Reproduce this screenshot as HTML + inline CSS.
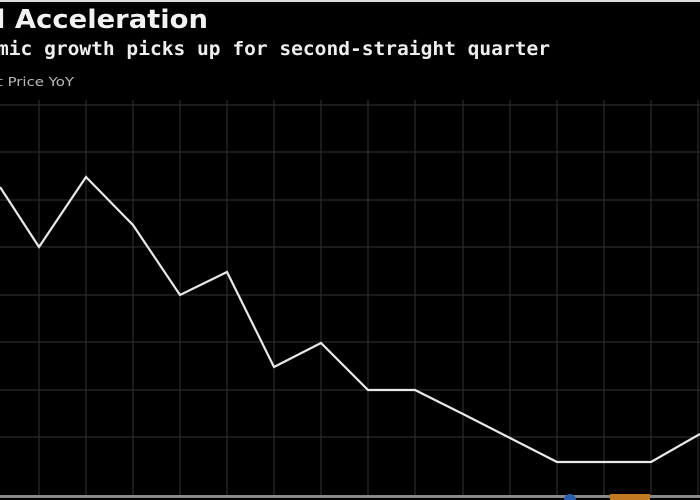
<!DOCTYPE html>
<html><head><style>
html,body{margin:0;padding:0;background:#000;width:700px;height:500px;overflow:hidden}
svg{display:block}
</style></head><body>
<svg width="700" height="500" xmlns="http://www.w3.org/2000/svg">
<rect width="700" height="500" fill="#000"/>
<rect x="0" y="0" width="700" height="2" fill="#ddd"/>
<text x="-4" y="28" fill="#f2f2f2" font-family="'DejaVu Sans', 'Liberation Sans', sans-serif" font-size="26" font-weight="bold" textLength="212" lengthAdjust="spacingAndGlyphs">l Acceleration</text>
<text x="-3" y="55" fill="#eee" font-family="'DejaVu Sans Mono', 'Liberation Mono', monospace" font-size="19" font-weight="bold" textLength="553" lengthAdjust="spacingAndGlyphs">mic growth picks up for second-straight quarter</text>
<text x="-3" y="86" fill="#bbb" font-family="'DejaVu Sans', 'Liberation Sans', sans-serif" font-size="12" textLength="77" lengthAdjust="spacingAndGlyphs">t Price YoY</text>
<g stroke="#333" stroke-width="1">
<line x1="0" y1="105" x2="700" y2="105"/><line x1="0" y1="152" x2="700" y2="152"/>
<line x1="0" y1="200" x2="700" y2="200"/><line x1="0" y1="247" x2="700" y2="247"/>
<line x1="0" y1="295" x2="700" y2="295"/><line x1="0" y1="342" x2="700" y2="342"/>
<line x1="0" y1="390" x2="700" y2="390"/><line x1="0" y1="437" x2="700" y2="437"/>
<line x1="39" y1="100" x2="39" y2="495"/><line x1="86" y1="100" x2="86" y2="495"/>
<line x1="133" y1="100" x2="133" y2="495"/><line x1="180" y1="100" x2="180" y2="495"/>
<line x1="227" y1="100" x2="227" y2="495"/><line x1="274" y1="100" x2="274" y2="495"/>
<line x1="321" y1="100" x2="321" y2="495"/><line x1="368" y1="100" x2="368" y2="495"/>
<line x1="415" y1="100" x2="415" y2="495"/><line x1="463" y1="100" x2="463" y2="495"/>
<line x1="510" y1="100" x2="510" y2="495"/><line x1="557" y1="100" x2="557" y2="495"/>
<line x1="604" y1="100" x2="604" y2="495"/><line x1="651" y1="100" x2="651" y2="495"/>
<line x1="698" y1="100" x2="698" y2="495"/>
</g>
<rect x="0" y="495" width="700" height="3" fill="#888"/>
<polyline fill="none" stroke="#e8e8e8" stroke-width="2.2" points="0,187 39,247 86,177 133,225 180,295 227,272 274,367 321,343 368,390 415,390 463,414 510,438 557,462 604,462 651,462 700,434"/>
<circle cx="570" cy="500" r="6" fill="#2a5db0"/>
<rect x="610" y="494" width="40" height="6" fill="#c07a20"/>
</svg>
</body></html>
